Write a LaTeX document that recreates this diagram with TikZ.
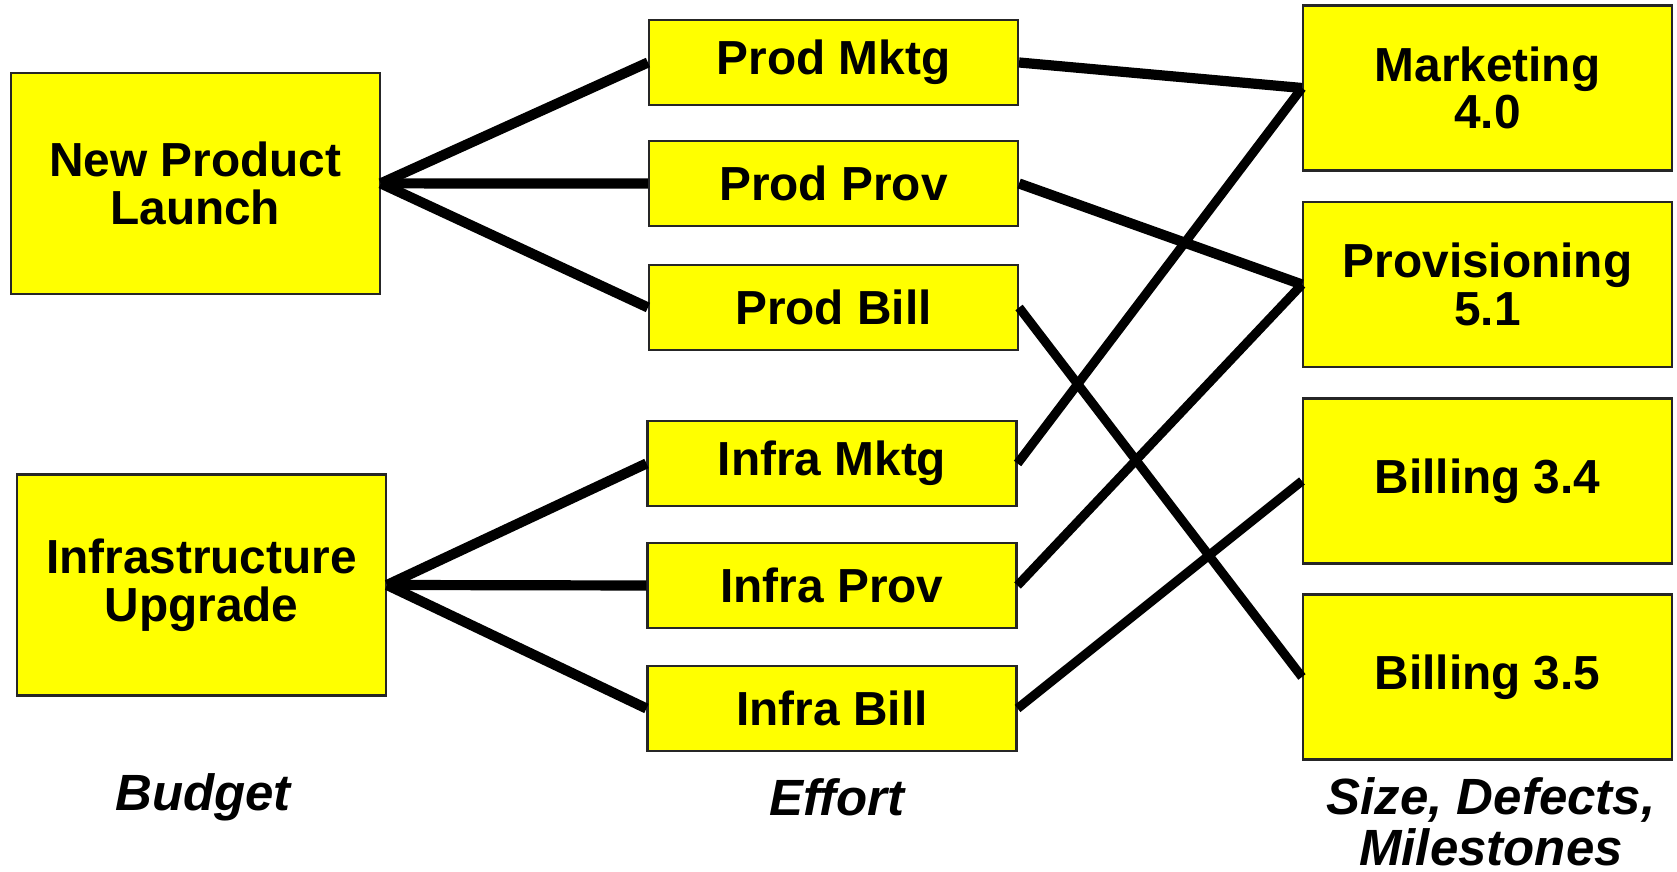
\documentclass[tikz,border=0pt]{standalone}
\usepackage{fontspec}
\setmainfont{Liberation Sans}
\usepackage{tikz}
\usetikzlibrary{calc,positioning}
\definecolor{boxyellow}{RGB}{255,255,0}

\begin{document}
\begin{tikzpicture}[box/.style={draw=black!85,fill=boxyellow,line width=0.6pt,align=center,inner sep=0pt,font=\fontsize{13.6}{13.6}\selectfont\bfseries},
  big/.style={box,minimum width=3.69cm,minimum height=2.21cm},
  eff/.style={box,minimum width=3.69cm,minimum height=0.85cm},
  rel/.style={box,minimum width=3.69cm,minimum height=1.65cm},
  link/.style={line width=2.9pt},
  xlink/.style={line width=2.6pt},
  colhead/.style={align=center,font=\fontsize{14.5}{14.5}\selectfont\bfseries\itshape}]
  \useasboundingbox (0,0) rectangle (16.77,8.72);

  % budget
  \node[big] (b1) at (1.952,6.886) {New Product\\Launch};
  \node[big] (b2) at (2.015,2.870) {Infrastructure\\Upgrade};

  % effort
  \node[eff] (e1) at (8.335,8.095) {Prod Mktg};
  \node[eff] (e2) at (8.335,6.885) {Prod Prov};
  \node[eff] (e3) at (8.335,5.645) {Prod Bill};
  \node[eff] (e4) at (8.320,4.085) {Infra Mktg};
  \node[eff] (e5) at (8.320,2.865) {Infra Prov};
  \node[eff] (e6) at (8.320,1.635) {Infra Bill};

  % size, defects, milestones
  \node[rel] (r1) at (14.875,7.840) {Marketing\\4.0};
  \node[rel] (r2) at (14.875,5.875) {Provisioning\\5.1};
  \node[rel] (r3) at (14.875,3.910) {Billing 3.4};
  \node[rel] (r4) at (14.875,1.950) {Billing 3.5};

  \draw[link] (b1.east) -- (e1.west);
  \draw[link] (b1.east) -- (e2.west);
  \draw[link] (b1.east) -- (e3.west);
  \draw[link] (b2.east) -- (e4.west);
  \draw[link] (b2.east) -- (e5.west);
  \draw[link] (b2.east) -- (e6.west);

  \draw[link] (e1.east) -- (r1.west);
  \draw[link] (e2.east) -- (r2.west);
  \draw[xlink] (e3.east) -- (r4.west);
  \draw[xlink] (e4.east) -- (r1.west);
  \draw[xlink] (e5.east) -- (r2.west);
  \draw[xlink] (e6.east) -- (r3.west);

  \node[colhead] (c1) at (2.03,0.75) {Budget};
  \node[colhead] (c2) at (8.37,0.75) {Effort};
  \node[colhead] (c3) at (14.91,0.50) {Size, Defects,\\Milestones};
\end{tikzpicture}
\end{document}
